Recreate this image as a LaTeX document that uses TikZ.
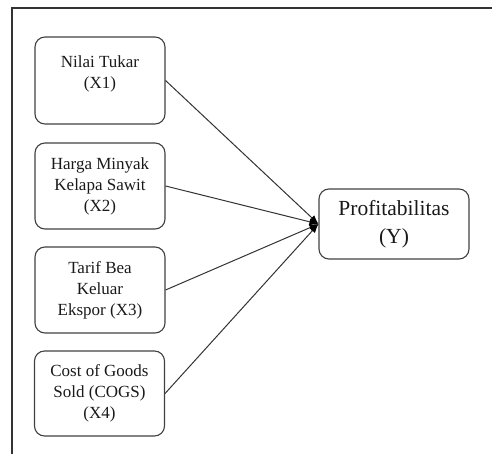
\documentclass[tikz,border=0pt]{standalone}
\usepackage{fontspec}
\setmainfont{Liberation Serif}
\usetikzlibrary{arrows.meta}

\begin{document}
\begin{tikzpicture}[x = 1pt, y = -1pt,
  var/.style = {draw = black!75, line width = 1.1pt, rounded corners = 10pt, align = center,
    minimum width = 130pt, minimum height = 86pt, inner sep = 0pt,
    font = \fontsize{17}{21}\selectfont, text = black!90},
  link/.style = {draw = black!80, line width = 1pt, -{Latex[length = 9pt, width = 7pt, black]}}]
\useasboundingbox (0, 0) rectangle (492, 454);
% Frame
\draw[line width = 2pt, black!80] (12, 454) -- (12, 8) -- (492, 8);
% Independent variables
\node[var, minimum height = 87pt, text depth = 16pt] (x1) at (100, 80.5) {Nilai Tukar\\(X1)};
\node[var] (x2) at (100, 186) {Harga Minyak\\Kelapa Sawit\\(X2)};
\node[var] (x3) at (100, 290) {Tarif Bea\\Keluar\\Ekspor (X3)};
\node[var, minimum height = 85pt] (x4) at (99.5, 393.5) {Cost of Goods\\Sold (COGS)\\(X4)};
% Dependent variable
\node[var, minimum width = 150pt, minimum height = 70pt, font = \fontsize{21.5}{28}\selectfont] (y) at (394, 224) {Profitabilitas\\(Y)};
% Links
\draw[link] (x1.east) -- (y.west);
\draw[link] (x2.east) -- (y.west);
\draw[link] (x3.east) -- (y.west);
\draw[link] (x4.east) -- (y.west);
\end{tikzpicture}
\end{document}
